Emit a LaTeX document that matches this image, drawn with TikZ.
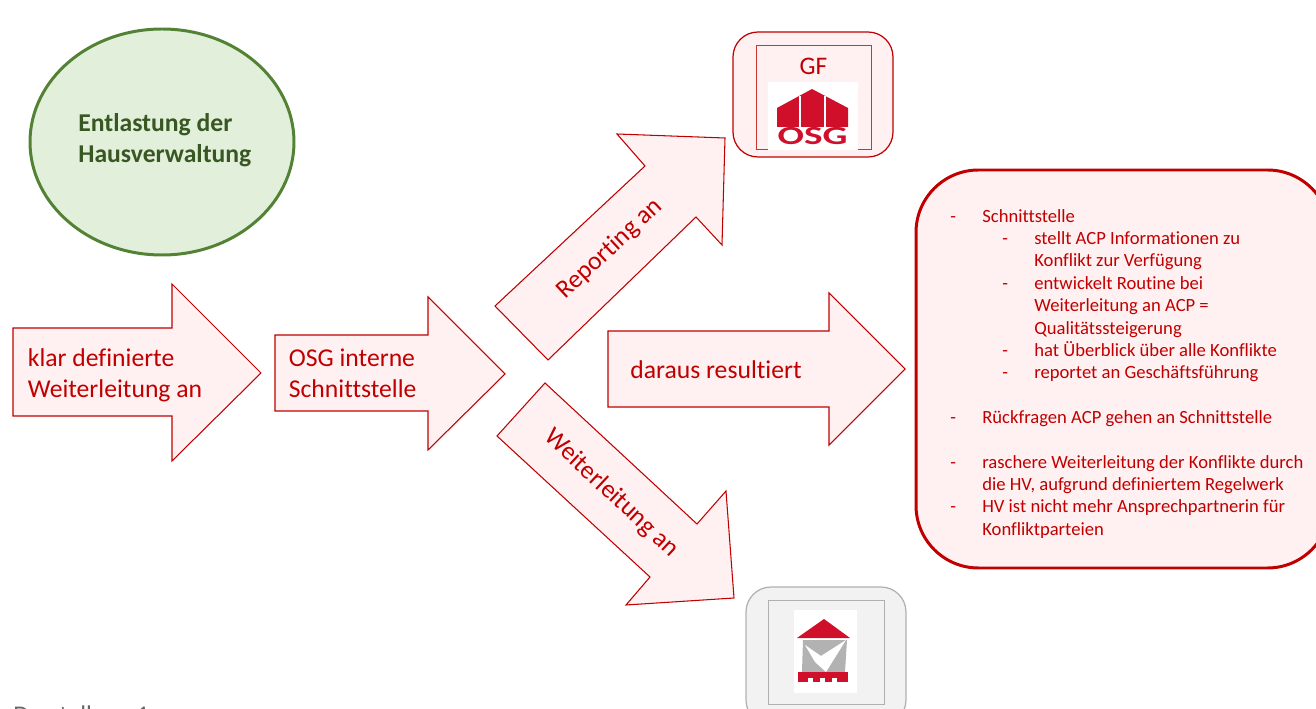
\documentclass[tikz,border=0pt]{standalone}
\usepackage{fontspec}
\setmainfont[Ligatures=NoCommon]{Carlito}
\definecolor{osgred}{HTML}{C00000}
\definecolor{logored}{HTML}{D0102A}
\definecolor{arrowfill}{HTML}{FFF1F1}
\definecolor{boxgray}{HTML}{B0B0B0}
\definecolor{circleline}{HTML}{548235}
\definecolor{circlefill}{HTML}{E2EFDA}
\definecolor{circletext}{HTML}{385723}
\tikzset{
  bigarrow/.style={draw=osgred,fill=arrowfill,line width=0.6pt},
  arrowtext/.style={text=osgred,font=\fontsize{14.6}{17.6}\selectfont,align=left,inner sep=0pt},
  boxline/.style={text=osgred,font=\fontsize{10.6}{12}\selectfont,anchor=base west,inner sep=0pt},
}
\begin{document}
\begin{tikzpicture}[x=0.02cm,y=-0.02cm]
\useasboundingbox (0,0) rectangle (1316,709);
\clip (0,0) rectangle (1316,709);

% Circle top left.
\draw[draw=circleline,fill=circlefill,line width=1.7pt] (162,142) ellipse [x radius=132,y radius=113];
\node[anchor=west,align=left,inner sep=0pt,text=circletext,font=\fontsize{14.6}{17.6}\selectfont\bfseries] (relief) at (78,140) {Entlastung der\\Hausverwaltung};

% Draw the block arrows.
\draw[bigarrow] (13,328) -- (172,328) -- (172,284) -- (261,373) -- (172,461) -- (172,416) -- (13,416) -- cycle;
\draw[bigarrow] (275,335) -- (428,335) -- (428,297) -- (505,374) -- (428,450) -- (428,411) -- (275,411) -- cycle;
\draw[bigarrow] (608,331) -- (829,331) -- (829,293) -- (905,369) -- (829,445) -- (829,407) -- (608,407) -- cycle;
\draw[bigarrow] (495,306) -- (645,166) -- (617,134) -- (725,138) -- (722,245) -- (696,217) -- (548,360) -- cycle;
\draw[bigarrow] (497,436) -- (545,383) -- (697,524) -- (726,491) -- (734,598) -- (626,605) -- (650,577) -- cycle;

\node[arrowtext,anchor=west] (forward) at (27.5,375) {klar definierte\\Weiterleitung an};
\node[arrowtext,anchor=west] (internal) at (288.5,373) {OSG interne\\Schnittstelle};
\node[arrowtext,anchor=west] (result) at (630,370) {daraus resultiert};
\node[arrowtext,rotate=43] (report) at (610,249) {Reporting an};
\node[arrowtext,rotate=-43] (passon) at (611.5,493.5) {Weiterleitung an};

% GF box with logo.
\draw[draw=osgred,fill=arrowfill,line width=0.7pt,rounded corners=0.5cm] (733,32) rectangle (893,157);
\draw[draw=osgred!80,line width=0.45pt] (756,45) rectangle (871,149);
\node[text=osgred,font=\fontsize{14.4}{15}\selectfont] (gf) at (813.5,66) {GF};
\fill[white] (768,82) rectangle (858,150);
\fill[logored] (777,108) -- (812,89) -- (848,108) -- (848,127) -- (777,127) -- cycle;
\draw[white,line width=0.6pt] (800,96) -- (800,127) (825,96) -- (825,127);
\node[text=logored,font=\fontsize{13.5}{15}\selectfont\bfseries,inner sep=0pt,xscale=1.65,yscale=1.1] (osg) at (812.5,136.5) {OSG};

% Grey box with logo.
\draw[draw=boxgray,fill=black!5,line width=0.7pt,rounded corners=0.5cm] (746,587) rectangle (906,725);
\draw[draw=boxgray,line width=0.45pt] (768,600) rectangle (884,704);
\fill[white] (794,610) rectangle (857,693);
\fill[black!30] (803,640) -- (847,640) -- (845,672) -- (802,672) -- cycle;
\fill[white] (805,645) -- (821,656) -- (846,640) -- (826,672) -- (815,662) -- cycle;
\fill[logored] (797,638) -- (824,619) -- (850,638) -- cycle;
\fill[logored] (798,672) -- (848,672) -- (848,682) -- (798,682) -- cycle;
\foreach \x in {808,820,832} \fill[white] (\x,678) rectangle (\x+5,683);

% Text box on the right.
\draw[draw=osgred,fill=arrowfill,line width=1.7pt,rounded corners=1.25cm] (916,170) rectangle (1330,568);
\foreach \i/\dx/\dy/\t in {
  1/950/223/-,2/982/223/Schnittstelle,
  3/1002/245/-,4/1034/245/stellt ACP Informationen zu,
  5/1034/267/Konflikt zur Verfügung,
  6/1002/290/-,7/1034/290/entwickelt Routine bei,
  8/1034/312/Weiterleitung an ACP =,
  9/1034/335/Qualitätssteigerung,
  10/1002/357/-,11/1034/357/hat Überblick über alle Konflikte,
  12/1002/379/-,13/1034/379/reportet an Geschäftsführung,
  14/950/424/-,15/982/424/Rückfragen ACP gehen an Schnittstelle,
  16/950/469/-,17/982/469/raschere Weiterleitung der Konflikte durch,
  18/982/491/{die HV, aufgrund definiertem Regelwerk},
  19/950/513/-,20/982/513/HV ist nicht mehr Ansprechpartnerin für,
  21/982/536/Konfliktparteien}
  \node[boxline] (line\i) at (\dx,\dy) {\t};

% Caption, cut off at the bottom edge.
\node[anchor=base west,inner sep=0pt,text=black!60,font=\fontsize{14.5}{16}\selectfont] (caption) at (13,723) {Darstellung 1};
\end{tikzpicture}
\end{document}
